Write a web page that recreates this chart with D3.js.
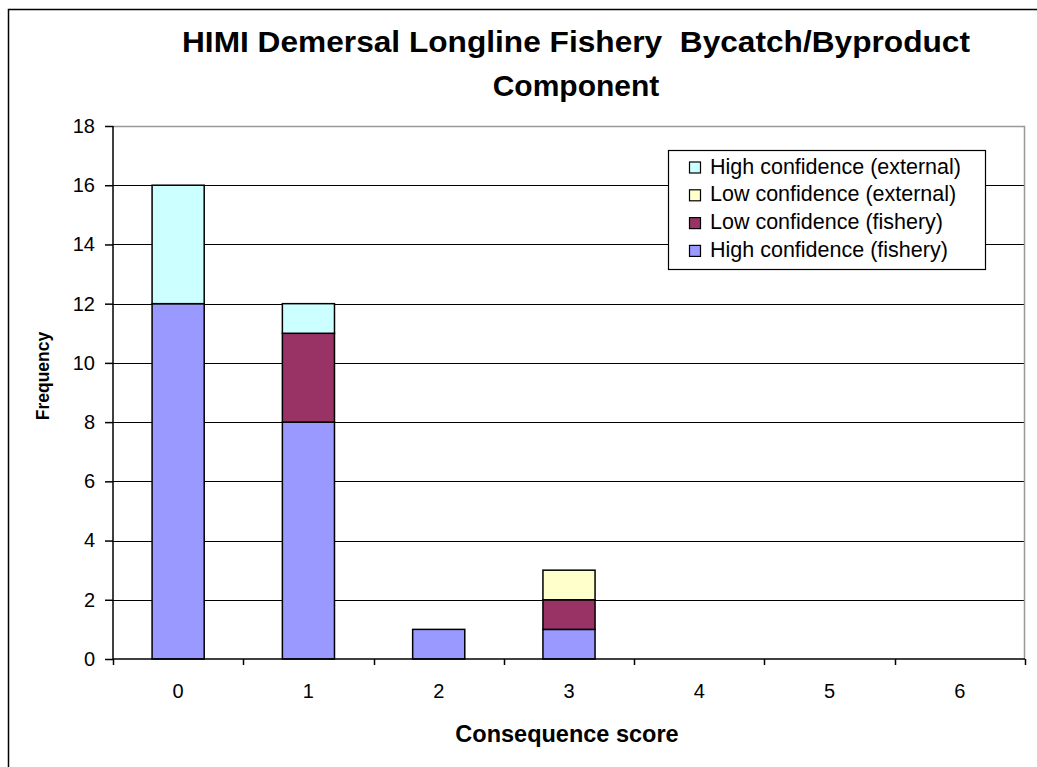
<!DOCTYPE html>
<html>
<head>
<meta charset="utf-8">
<script src="https://cdn.jsdelivr.net/npm/d3@7"></script>
<style>
  html, body { margin: 0; padding: 0; background: #fff; }
  svg { display: block; font-family: Arial, "Liberation Sans", sans-serif; }
</style>
</head>
<body>
<svg id="chart" width="1037" height="767"></svg>
<script>
// Consequence scores on the x axis
const categories = ["0", "1", "2", "3", "4", "5", "6"];

// Frequencies per series (stacked bottom to top)
const highFishery  = [12, 8, 1, 1, 0, 0, 0];
const lowFishery   = [0, 3, 0, 1, 0, 0, 0];
const lowExternal  = [0, 0, 0, 1, 0, 0, 0];
const highExternal = [4, 1, 0, 0, 0, 0, 0];

const seriesNames = [
  "High confidence (fishery)",
  "Low confidence (fishery)",
  "Low confidence (external)",
  "High confidence (external)"
];
const seriesColors = ["#9999FF", "#993366", "#FFFFCC", "#CCFFFF"];
const yTicks = [0, 2, 4, 6, 8, 10, 12, 14, 16, 18];

const FONT = "Arial, 'Liberation Sans', sans-serif";
const svg = d3.select("#chart");

// Chart-area outer frame
svg.append("rect")
  .attr("x", 8.5).attr("y", 9.5)
  .attr("width", 1040).attr("height", 770)
  .attr("fill", "#fff").attr("stroke", "#000").attr("stroke-width", 1.5);

const plot = { left: 113, top: 126, right: 1025, bottom: 659 };

const x = d3.scaleBand()
  .domain(categories)
  .range([plot.left, plot.right])
  .paddingInner(0.6).paddingOuter(0.3);

const y = d3.scaleLinear().domain([0, 18]).range([plot.bottom, plot.top]);

// Horizontal gridlines
svg.append("g").selectAll("line")
  .data(yTicks.filter(t => t > 0 && t < 18))
  .join("line")
  .attr("x1", plot.left).attr("x2", plot.right)
  .attr("y1", d => Math.round(y(d)) + 0.5).attr("y2", d => Math.round(y(d)) + 0.5)
  .attr("stroke", "#000").attr("stroke-width", 1.2);

// Plot-area border (top and right in grey)
svg.append("path")
  .attr("d", `M${plot.left},${plot.top + 0.5}H${plot.right - 0.5}V${plot.bottom}`)
  .attr("fill", "none").attr("stroke", "#999").attr("stroke-width", 1.5);

// Stacked bars
const rows = categories.map((c, i) => ({
  cat: c,
  s0: highFishery[i], s1: lowFishery[i], s2: lowExternal[i], s3: highExternal[i]
}));
const stack = d3.stack().keys(["s0", "s1", "s2", "s3"]);
const layers = stack(rows);

svg.append("g").selectAll("g")
  .data(layers)
  .join("g")
  .attr("fill", (d, i) => seriesColors[i])
  .selectAll("rect")
  .data(d => d.filter(p => p[1] > p[0]))
  .join("rect")
  .attr("x", d => x(d.data.cat))
  .attr("width", x.bandwidth())
  .attr("y", d => y(d[1]))
  .attr("height", d => y(d[0]) - y(d[1]))
  .attr("stroke", "#000").attr("stroke-width", 1.5);

// Y axis
const yAxis = d3.axisLeft(y).tickValues(yTicks).tickSize(8).tickPadding(10);
const gy = svg.append("g").attr("transform", `translate(${plot.left},0)`).call(yAxis);
gy.select(".domain").attr("stroke", "#000").attr("stroke-width", 1.5).attr("d", `M0,${plot.top}V${plot.bottom}`);
gy.selectAll(".tick line").attr("stroke", "#000").attr("stroke-width", 1.5);
gy.selectAll(".tick text").attr("font-size", 20).attr("font-family", FONT).attr("fill", "#000");

// X axis: ticks at category boundaries, labels at centres
const gx = svg.append("g").attr("transform", `translate(0,${plot.bottom})`);
gx.append("line")
  .attr("x1", plot.left).attr("x2", plot.right)
  .attr("stroke", "#000").attr("stroke-width", 1.5);
const step = (plot.right - plot.left) / categories.length;
gx.selectAll("line.tk")
  .data(d3.range(categories.length + 1))
  .join("line").attr("class", "tk")
  .attr("x1", i => Math.round(plot.left + i * step) + 0.5)
  .attr("x2", i => Math.round(plot.left + i * step) + 0.5)
  .attr("y1", 0).attr("y2", 6)
  .attr("stroke", "#000").attr("stroke-width", 1.5);
gx.selectAll("text")
  .data(categories)
  .join("text")
  .attr("x", d => x(d) + x.bandwidth() / 2)
  .attr("y", 39)
  .attr("text-anchor", "middle")
  .attr("font-size", 20)
  .text(d => d);

// Title
const title = svg.append("text")
  .attr("text-anchor", "middle")
  .attr("font-size", 30).attr("font-weight", "bold");
title.append("tspan").attr("x", 576).attr("y", 52)
  .attr("textLength", 788).attr("lengthAdjust", "spacingAndGlyphs")
  .attr("xml:space", "preserve")
  .text("HIMI Demersal Longline Fishery  Bycatch/Byproduct");
title.append("tspan").attr("x", 576).attr("y", 96).text("Component");

// Axis titles
svg.append("text")
  .attr("x", 567).attr("y", 742)
  .attr("text-anchor", "middle").attr("font-size", 23.5).attr("font-weight", "bold")
  .text("Consequence score");
svg.append("text")
  .attr("transform", `translate(49,376) rotate(-90)`)
  .attr("text-anchor", "middle").attr("font-size", 17.5).attr("font-weight", "bold")
  .text("Frequency");

// Legend (top entry is the top of the stack)
const legend = svg.append("g").attr("transform", "translate(668,150)");
legend.append("rect")
  .attr("x", 0.5).attr("y", 0.5).attr("width", 317).attr("height", 119)
  .attr("fill", "#fff").attr("stroke", "#000").attr("stroke-width", 1.2);
const legendOrder = [3, 2, 1, 0];
const items = legend.selectAll("g.item")
  .data(legendOrder)
  .join("g").attr("class", "item")
  .attr("transform", (d, i) => `translate(0,${23.5 + i * 27.8})`);
items.append("rect")
  .attr("x", 21.5).attr("y", -11.5).attr("width", 11).attr("height", 11)
  .attr("fill", d => seriesColors[d]).attr("stroke", "#000").attr("stroke-width", 1.2);
items.append("text")
  .attr("x", 42).attr("y", 0)
  .attr("font-size", 21.5)
  .text(d => seriesNames[d]);
</script>
</body>
</html>
